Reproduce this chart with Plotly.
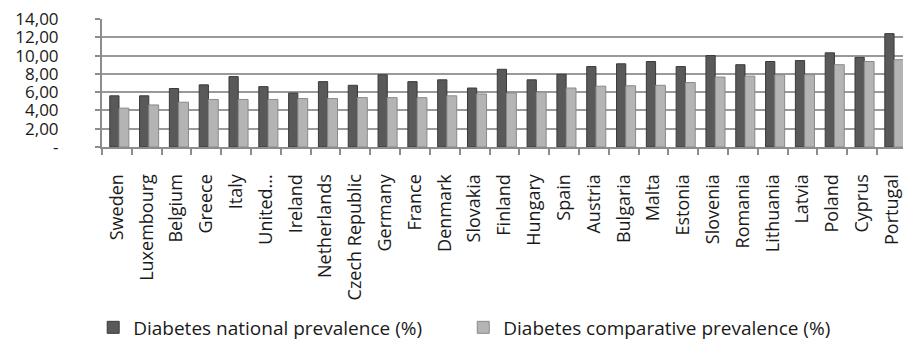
import plotly.graph_objects as go

countries = [
    "Sweden", "Luxembourg", "Belgium", "Greece", "Italy", "United...",
    "Ireland", "Netherlands", "Czech Republic", "Germany", "France",
    "Denmark", "Slovakia", "Finland", "Hungary", "Spain", "Austria",
    "Bulgaria", "Malta", "Estonia", "Slovenia", "Romania", "Lithuania",
    "Latvia", "Poland", "Cyprus", "Portugal",
]
national = [
    5.6, 5.6, 6.4, 6.8, 7.7, 6.6, 5.9, 7.15, 6.75, 7.9, 7.15, 7.35, 6.45,
    8.5, 7.35, 7.95, 8.8, 9.1, 9.35, 8.8, 10.0, 9.0, 9.35, 9.45, 10.3,
    9.8, 12.4,
]
comparative = [
    4.25, 4.6, 4.9, 5.2, 5.2, 5.2, 5.3, 5.3, 5.4, 5.4, 5.4, 5.6, 5.8,
    5.9, 6.0, 6.45, 6.65, 6.7, 6.75, 7.05, 7.65, 7.75, 7.9, 7.9, 9.0,
    9.35, 9.55,
]
y_ticks = [0, 2, 4, 6, 8, 10, 12, 14]
y_tick_text = ["-", "2,00", "4,00", "6,00", "8,00", "10,00", "12,00", "14,00"]

FONT = "Open Sans"
legend_font = dict(size=19, family=FONT, color="#1a1a1a")

fig = go.Figure()
fig.add_trace(go.Bar(
    x=countries, y=national, name="Diabetes national prevalence (%)",
    marker=dict(color="#595959", line=dict(color="#3a3a3a", width=1)),
    width=0.31, offset=-0.24, legend="legend",
))
fig.add_trace(go.Bar(
    x=countries, y=comparative, name="Diabetes comparative prevalence (%)",
    marker=dict(color="#b4b4b4", line=dict(color="#8a8a8a", width=1)),
    width=0.33, offset=0.07, legend="legend2",
))

fig.update_layout(
    width=903, height=347,
    margin=dict(l=102, r=0, t=19, b=193),
    paper_bgcolor="white", plot_bgcolor="white",
    font=dict(family=FONT, color="#1a1a1a"),
    showlegend=True,
    legend=dict(
        orientation="h", x=-0.011, xanchor="left", y=-1.41, yanchor="middle",
        font=legend_font, bgcolor="rgba(0,0,0,0)",
    ),
    legend2=dict(
        orientation="h", x=0.451, xanchor="left", y=-1.41, yanchor="middle",
        font=legend_font, bgcolor="rgba(0,0,0,0)",
    ),
    bargap=0.4,
)
fig.update_xaxes(
    type="category", range=[-0.5, 26.37],
    tickson="boundaries", ticks="outside", ticklen=6, tickcolor="#8c8c8c",
    tickwidth=2, showline=True, linecolor="#8c8c8c", linewidth=2,
    tickangle=-90, tickfont=dict(size=18, family=FONT, color="#1a1a1a"),
    ticklabelstandoff=18,
    showgrid=False,
)
fig.update_yaxes(
    range=[0, 14], tickvals=y_ticks, ticktext=y_tick_text,
    ticks="outside", ticklen=5, tickcolor="#8c8c8c", tickwidth=2,
    showline=True, linecolor="#8c8c8c", linewidth=2,
    showgrid=True, gridcolor="#999999", gridwidth=2,
    ticklabelstandoff=33,
    tickfont=dict(size=17, family=FONT, color="#1a1a1a"),
    zeroline=False,
)

fig.write_html("out.html")
